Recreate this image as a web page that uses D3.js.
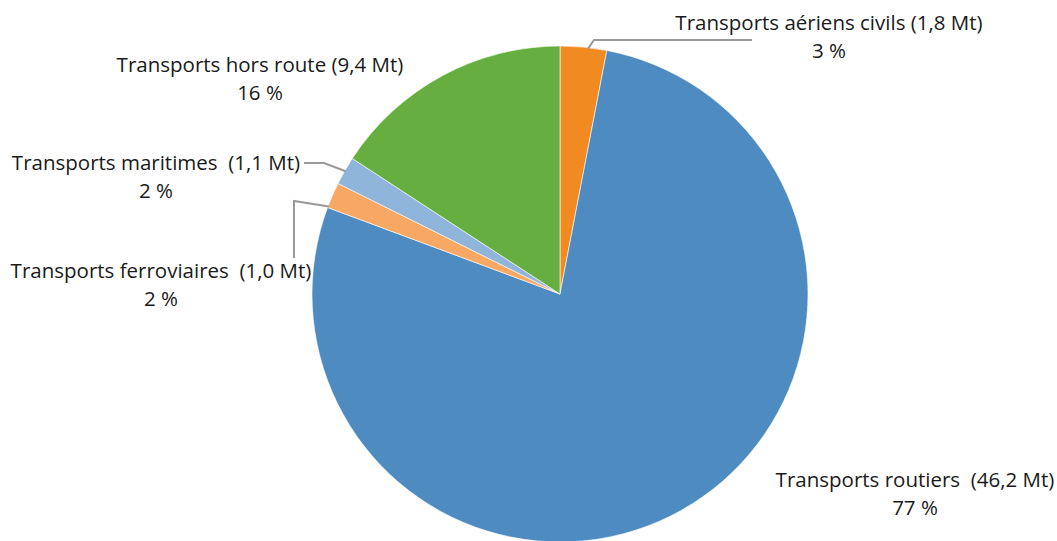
<!DOCTYPE html>
<html>
<head>
<meta charset="utf-8">
<script src="https://cdn.jsdelivr.net/npm/d3@7"></script>
<style>
  html, body { margin: 0; padding: 0; background: #ffffff; }
  svg { display: block; }
  text { font-family: "Open Sans", "Noto Sans", sans-serif; fill: #1a1a1a; }
</style>
</head>
<body>
<svg id="chart" width="1057" height="541"></svg>
<script>
// Émissions de CO2 des transports par mode (Mt) et part (%)
const categories = [
  "Transports aériens civils",
  "Transports routiers",
  "Transports ferroviaires",
  "Transports maritimes",
  "Transports hors route"
];
const valuesMt = [1.8, 46.2, 1.0, 1.1, 9.4];
const valueLabels = ["(1,8 Mt)", "(46,2 Mt)", "(1,0 Mt)", "(1,1 Mt)", "(9,4 Mt)"];
const percentLabels = ["3 %", "77 %", "2 %", "2 %", "16 %"];
const colors = ["#F28A22", "#4E8BC0", "#F8A862", "#8FB5DB", "#66AE40"];

// Label placement: centre of the two-line label, gap between name and value,
// optional leader line (elbow points, then the slice edge), and where along the slice it attaches.
const labelLayout = [
  { x: 829, y: 23, gap: " ", leader: [[752, 40], [594, 40]], frac: 0.6 },
  { x: 915, y: 480, gap: "  ", leader: null },
  { x: 161, y: 271, gap: "  ", leader: [[294, 258], [294, 201]], frac: 0.05 },
  { x: 156, y: 163, gap: "  ", leader: [[304, 163], [324, 163]], frac: 0.5 },
  { x: 260, y: 65, gap: " ", leader: null }
];

const svg = d3.select("#chart");
const cx = 560, cy = 294, radius = 248;

const pie = d3.pie().sort(null).value(d => d.value);
const data = categories.map((c, i) => ({ name: c, value: valuesMt[i], i }));
const arcs = pie(data);
const arc = d3.arc().innerRadius(0).outerRadius(radius);

const g = svg.append("g").attr("transform", `translate(${cx},${cy})`);

g.selectAll("path.slice")
  .data(arcs)
  .join("path")
  .attr("class", "slice")
  .attr("d", arc)
  .attr("fill", d => colors[d.data.i])
  .attr("stroke", "#ffffff")
  .attr("stroke-width", 0.6);

// Leader lines from labels to the slice edge
arcs.forEach(a => {
  const lay = labelLayout[a.data.i];
  if (!lay.leader) return;
  const ang = a.startAngle + (a.endAngle - a.startAngle) * lay.frac;
  const ex = cx + Math.sin(ang) * (radius - 1);
  const ey = cy - Math.cos(ang) * (radius - 1);
  const pts = lay.leader.concat([[ex, ey]]);
  svg.append("path")
    .attr("d", d3.line()(pts))
    .attr("fill", "none")
    .attr("stroke", "#9a9a9a")
    .attr("stroke-width", 2);
});

// Two-line labels: name + value, then share
const labels = svg.selectAll("text.lbl")
  .data(arcs)
  .join("text")
  .attr("class", "lbl")
  .attr("text-anchor", "middle")
  .attr("font-size", 20.5)
  .attr("x", d => labelLayout[d.data.i].x)
  .attr("y", d => labelLayout[d.data.i].y);

labels.append("tspan")
  .attr("x", d => labelLayout[d.data.i].x)
  .attr("dy", "0.35em")
  .attr("xml:space", "preserve")
  .style("white-space", "pre")
  .text(d => d.data.name + labelLayout[d.data.i].gap + valueLabels[d.data.i]);

labels.append("tspan")
  .attr("x", d => labelLayout[d.data.i].x)
  .attr("dy", 28)
  .text(d => percentLabels[d.data.i]);
</script>
</body>
</html>
